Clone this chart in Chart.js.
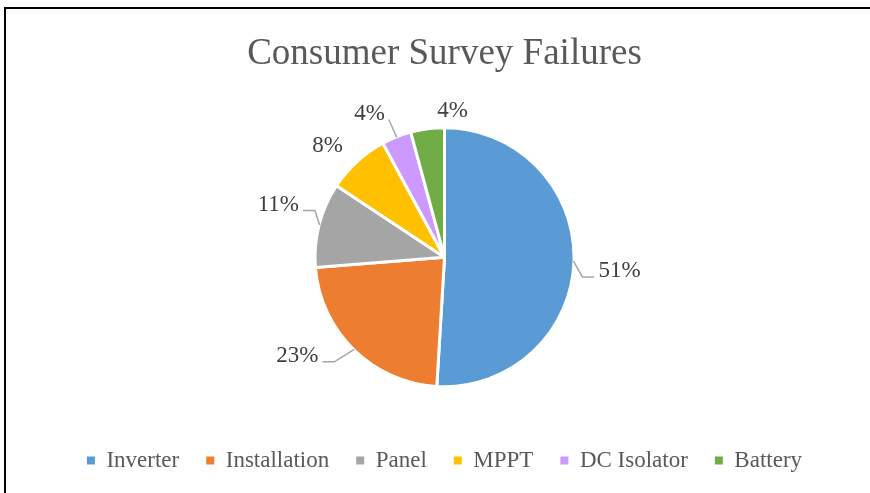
<!DOCTYPE html>
<html>
<head>
<meta charset="utf-8">
<title>Consumer Survey Failures</title>
<script src="https://cdn.jsdelivr.net/npm/chart.js@4/dist/chart.umd.min.js"></script>
<style>
  html, body { margin: 0; padding: 0; background: #fff; overflow: hidden; }
  #wrap { position: relative; width: 870px; height: 493px; }
  #frame { position: absolute; left: 4px; top: 7px; width: 900px; height: 600px; border: 2px solid #000; box-sizing: border-box; }
  canvas { position: absolute; left: 0; top: 0; }
</style>
</head>
<body>
<div id="wrap">
  <div id="frame"></div>
  <canvas id="surveyChart" width="870" height="493"></canvas>
</div>
<script>
// Chart data (share of reported failures, %)
const categories = ['Inverter', 'Installation', 'Panel', 'MPPT', 'DC Isolator', 'Battery'];
const failureShares = [51, 22.8, 10.6, 7.8, 3.7, 4.2];

// Slice colours (Office palette)
const sliceColors = ['#5B9BD5', '#ED7D31', '#A5A5A5', '#FFC000', '#CC99FF', '#70AD47'];

const serif = "'Times New Roman', 'Liberation Serif', serif";

// Percentage labels outside the pie, with leader lines like Excel
const sliceLabels = {
    id: 'sliceLabels',
    afterDatasetsDraw(chart, args, opts) {
        const ctx = chart.ctx;
        const meta = chart.getDatasetMeta(0);
        const values = chart.data.datasets[0].data;
        const total = values.reduce((a, b) => a + b, 0);

        ctx.save();
        ctx.font = opts.font;
        ctx.fillStyle = opts.color;
        ctx.textAlign = 'center';
        ctx.textBaseline = 'middle';

        meta.data.forEach((arc, i) => {
            const p = arc.getProps(['x', 'y', 'startAngle', 'endAngle', 'outerRadius'], true);
            const r = p.outerRadius - 1.5;
            const mid = (p.startAngle + p.endAngle) / 2;
            const cos = Math.cos(mid);
            const sin = Math.sin(mid);
            const text = Math.round(values[i] / total * 100) + '%';
            const w = ctx.measureText(text).width;
            const nudge = opts.nudge[i] || [0, 0];

            const cx = p.x + cos * (r + opts.gap) + cos * w / 2 + nudge[0];
            const cy = p.y + sin * (r + opts.gap) + sin * 7 + nudge[1];
            ctx.fillText(text, cx, cy);

            if (opts.leader[i]) {
                const sx = p.x + cos * (r + 1);
                const sy = p.y + sin * (r + 1);
                const ax = cos > 0 ? cx - w / 2 - 4 : cx + w / 2 + 4;
                const ay = cy + 6;
                const ex = cos > 0 ? ax - 12 : ax + 12;

                ctx.beginPath();
                ctx.strokeStyle = opts.lineColor;
                ctx.lineWidth = 1.5;
                ctx.moveTo(sx, sy);
                if (Math.abs(ax - sx) > 12) {
                    ctx.lineTo(ex, ay);
                }
                ctx.lineTo(ax, ay);
                ctx.stroke();
            }
        });
        ctx.restore();
    }
};

const ctx = document.getElementById('surveyChart').getContext('2d');

new Chart(ctx, {
    type: 'pie',
    data: {
        labels: categories,
        datasets: [{
            data: failureShares,
            backgroundColor: sliceColors,
            borderColor: '#ffffff',
            borderWidth: 3,
            radius: 129.5
        }]
    },
    options: {
        responsive: false,
        animation: false,
        layout: {
            padding: { left: 19, right: 0, top: 10, bottom: 11 }
        },
        plugins: {
            title: {
                display: true,
                text: 'Consumer Survey Failures',
                color: '#595959',
                font: { family: serif, size: 37, weight: 'normal' },
                padding: { top: 22, bottom: 16 }
            },
            legend: {
                position: 'bottom',
                labels: {
                    boxWidth: 8,
                    boxHeight: 8,
                    padding: 27,
                    color: '#595959',
                    font: { family: serif, size: 23 },
                    generateLabels: function(chart) {
                        const items = Chart.overrides.pie.plugins.legend.labels.generateLabels(chart);
                        return items.map(item => Object.assign(item, { lineWidth: 0 }));
                    }
                }
            },
            tooltip: { enabled: false },
            sliceLabels: {
                font: '23px ' + serif,
                color: '#404040',
                lineColor: '#A6A6A6',
                gap: 24,
                nudge: [[2, 9], [-26, -15], [1, -13], [-4, 6], [-13, 4], [30, 11]],
                leader: [true, true, true, false, true, false]
            }
        }
    },
    plugins: [sliceLabels]
});
</script>
</body>
</html>
